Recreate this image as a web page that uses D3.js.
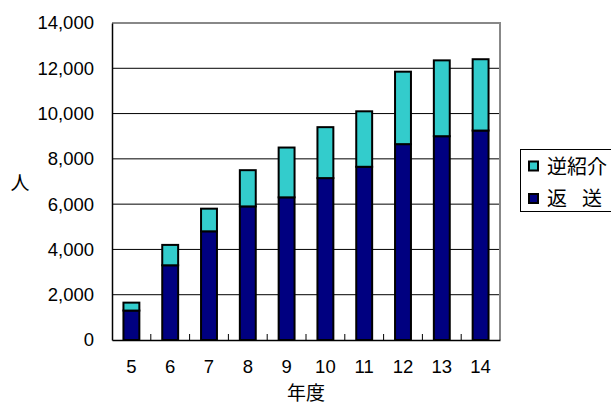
<!DOCTYPE html>
<html>
<head>
<meta charset="utf-8">
<script src="https://cdn.jsdelivr.net/npm/d3@7"></script>
<style>
  body { margin: 0; background: #fff; }
  text { font-family: "Liberation Sans", Arial, "Noto Sans CJK JP", sans-serif; fill: #000; }
</style>
</head>
<body>
<script>
// data
const years = ["5", "6", "7", "8", "9", "10", "11", "12", "13", "14"];
const henso = [1300, 3300, 4800, 5900, 6300, 7150, 7650, 8650, 9000, 9250];   // 返送
const gyaku = [350, 900, 1000, 1600, 2200, 2250, 2450, 3200, 3350, 3150];     // 逆紹介
const yTicks = [0, 2000, 4000, 6000, 8000, 10000, 12000, 14000];
const seriesNames = [["逆紹介"], ["返", "送"]];
const colors = { henso: "#000080", gyaku: "#33CCCC" };

const width = 611, height = 407;
const plotL = 112, plotR = 500, plotT = 23, plotB = 340;

const svg = d3.select("body").append("svg")
  .attr("width", width)
  .attr("height", height);

const x = d3.scaleBand().domain(years).range([plotL, plotR]).paddingInner(0.59).paddingOuter(0.295);
const y = d3.scaleLinear().domain([0, 14000]).range([plotB, plotT]);

// gridlines
svg.append("g")
  .selectAll("line")
  .data(yTicks.filter(d => d > 0 && d < 14000))
  .join("line")
  .attr("x1", plotL).attr("x2", plotR)
  .attr("y1", d => y(d)).attr("y2", d => y(d))
  .attr("stroke", "#000").attr("stroke-width", 1);

// plot frame top/right in gray
svg.append("path")
  .attr("d", `M${plotL},${plotT}H${plotR}V${plotB}`)
  .attr("fill", "none").attr("stroke", "#888").attr("stroke-width", 2);

// y axis
const yAxis = d3.axisLeft(y).tickValues(yTicks).tickSize(0).tickPadding(18)
  .tickFormat(d3.format(","));
const gy = svg.append("g").attr("transform", `translate(${plotL},0)`).call(yAxis);
gy.select(".domain").attr("stroke", "#000").attr("stroke-width", 1.5);
gy.selectAll("text").attr("font-size", 18.5);

// bars
const rows = years.map((yr, i) => ({ yr, h: henso[i], g: gyaku[i] }));
const bars = svg.append("g");
bars.selectAll("rect.h")
  .data(rows).join("rect").attr("class", "h")
  .attr("x", d => x(d.yr)).attr("width", x.bandwidth())
  .attr("y", d => y(d.h)).attr("height", d => y(0) - y(d.h))
  .attr("fill", colors.henso).attr("stroke", "#000").attr("stroke-width", 2);
bars.selectAll("rect.g")
  .data(rows).join("rect").attr("class", "g")
  .attr("x", d => x(d.yr)).attr("width", x.bandwidth())
  .attr("y", d => y(d.h + d.g)).attr("height", d => y(d.h) - y(d.h + d.g))
  .attr("fill", colors.gyaku).attr("stroke", "#000").attr("stroke-width", 2);

// x axis
const step = x.step();
const gx = svg.append("g").attr("transform", `translate(0,${plotB})`)
  .call(d3.axisBottom(x).tickSize(0).tickPadding(20));
gx.select(".domain").attr("stroke", "#000").attr("stroke-width", 1.5);
gx.selectAll("text").attr("font-size", 18.5);
// inside tick marks at category boundaries
svg.append("g").selectAll("line")
  .data(years.slice(1))
  .join("line")
  .attr("x1", d => x(d) - (step - x.bandwidth()) / 2)
  .attr("x2", d => x(d) - (step - x.bandwidth()) / 2)
  .attr("y1", plotB).attr("y2", plotB - 6)
  .attr("stroke", "#000").attr("stroke-width", 1);

// axis titles
svg.append("text").text("年度")
  .attr("x", (plotL + plotR) / 2).attr("y", 400)
  .attr("text-anchor", "middle").attr("font-size", 19);
svg.append("text").text("人")
  .attr("x", 20).attr("y", 190)
  .attr("text-anchor", "middle").attr("font-size", 19);

// legend
const lg = svg.append("g");
lg.append("rect")
  .attr("x", 520.5).attr("y", 149.5).attr("width", 100).attr("height", 62)
  .attr("fill", "#fff").attr("stroke", "#000").attr("stroke-width", 1);
const items = [
  { name: seriesNames[0], color: colors.gyaku },
  { name: seriesNames[1], color: colors.henso }
];
const li = lg.selectAll("g.item").data(items).join("g")
  .attr("transform", (d, i) => `translate(528,${166 + i * 32.5})`);
li.append("rect")
  .attr("x", 1).attr("y", -4.5).attr("width", 9).attr("height", 9)
  .attr("fill", d => d.color).attr("stroke", "#000").attr("stroke-width", 2);
li.append("text")
  .attr("x", 19).attr("y", 7.5)
  .attr("font-size", 20)
  .selectAll("tspan").data(d => d.name).join("tspan")
  .attr("dx", (d, i) => i ? 15 : 0)
  .text(d => d);
</script>
</body>
</html>
